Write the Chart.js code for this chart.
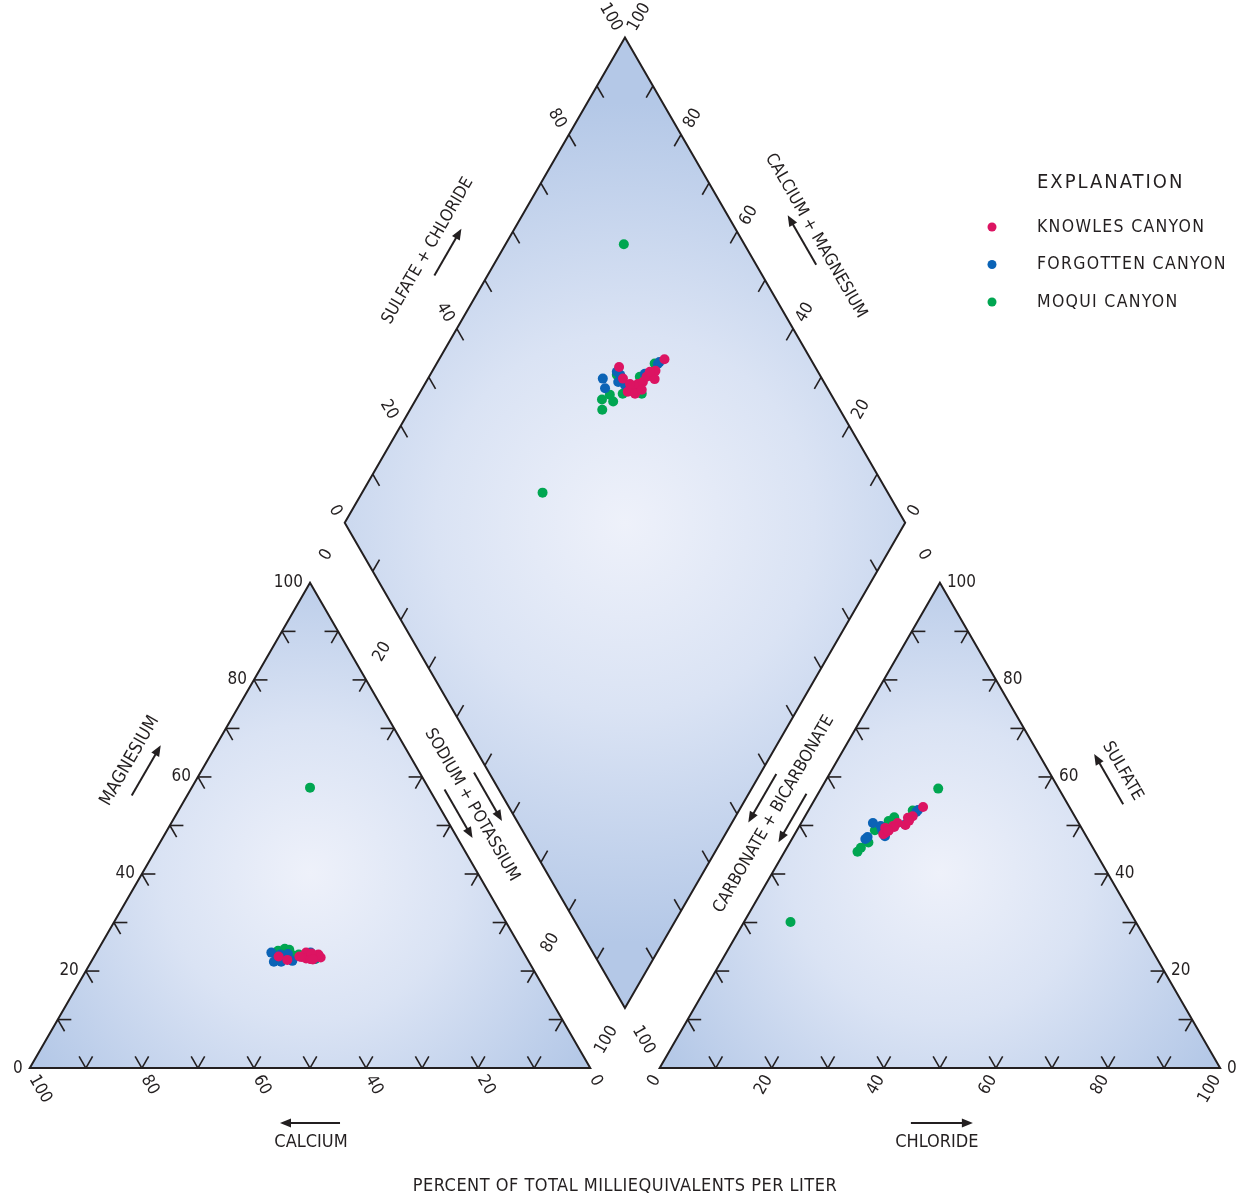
<!DOCTYPE html>
<html>
<head>
<meta charset="utf-8">
<script src="https://cdn.jsdelivr.net/npm/chart.js@4.4.0/dist/chart.umd.min.js"></script>
<style>
  html, body { margin: 0; padding: 0; background: #fff; }
  #piper { display: block; }
</style>
</head>
<body>
<canvas id="piper" width="1238" height="1204"></canvas>
<script>
// === PIPER DIAGRAM — percent of total milliequivalents per liter ===

const seriesNames  = ['KNOWLES CANYON', 'FORGOTTEN CANYON', 'MOQUI CANYON'];
const seriesColors = ['#dc1462', '#0b63b6', '#00a651'];

// one entry per water sample; sodium + potassium = 100 - Ca - Mg, carbonate + bicarbonate = 100 - Cl - SO4
const knowlesCa  = [36.9, 44.1, 42.9, 40.1, 38.8, 39.4, 38.2, 38.7, 36.7, 36.8, 38.6, 37.9, 38.3, 40.4];
const knowlesMg  = [22.9, 23.0, 22.3, 22.9, 23.8, 22.6, 23.1, 22.5, 22.8, 23.4, 22.5, 23.6, 22.4, 23.0];
const knowlesCl  = [20.1, 15.5, 16.0, 15.8, 16.4, 16.7, 17.2, 18.8, 18.5, 19.2, 19.0, 16.3, 17.0, 16.3];
const knowlesSO4 = [53.8, 49.5, 48.5, 48.2, 49.0, 49.9, 50.5, 50.1, 51.6, 51.9, 51.0, 48.8, 49.7, 48.9];

const forgottenCa  = [45.0, 45.5, 44.2, 42.2, 38.0, 38.0, 37.4, 42.1, 43.6];
const forgottenMg  = [23.8, 21.9, 21.9, 23.5, 23.8, 22.5, 23.0, 22.1, 23.4];
const forgottenCl  = [13.3, 13.1, 14.5, 12.8, 18.7, 19.4, 19.5, 15.2, 16.3];
const forgottenSO4 = [47.6, 47.2, 49.9, 50.5, 50.2, 52.8, 53.2, 49.0, 47.8];

const moquiCa  = [42.2, 42.8, 41.5, 41.4, 38.3, 43.0, 37.8, 40.3, 39.4, 21.1, 43.6];
const moquiMg  = [24.6, 22.9, 24.4, 23.2, 22.8, 23.7, 22.5, 23.4, 23.0, 57.8, 24.2];
const moquiCl  = [13.2, 13.0, 14.0, 13.5, 18.6, 14.2, 15.4, 13.9, 16.0, 20.9, 8.3];
const moquiSO4 = [45.4, 44.6, 46.5, 46.9, 53.1, 49.6, 50.9, 49.0, 51.7, 57.6, 30.1];

// tick labels on each axis
const magnesiumTicks = [0, 20, 40, 60, 80, 100];
const calciumTicks   = [100, 80, 60, 40, 20, 0];
const chlorideTicks  = [0, 20, 40, 60, 80, 100];
const sulfateTicks   = [0, 20, 40, 60, 80, 100];
const sulfChlTicks   = [0, 20, 40, 80, 100];
const calMagTicks    = [0, 20, 40, 60, 80, 100];
const sodPotTicks    = [0, 20, 80, 100];
const carbTicks      = [0, 100];

// --- layout ---
const PX = 5.65;              // pixels per percent along a side
const GAP = 70 / PX;          // space between the two triangles (percent units)
const H = Math.sqrt(3) / 2;
const ORIGIN_X = 25, ORIGIN_Y = 1072;
const W = 1238, HT = 1204;
const INK = '#231f20';
const FONT = '"Liberation Sans Narrow", "DejaVu Sans Condensed", sans-serif';

function cationXY(ca, mg) {
    const na = 100 - ca - mg;
    return { x: na + mg / 2, y: mg * H };
}
function anionXY(cl, so4) {
    return { x: 100 + GAP + cl + so4 / 2, y: so4 * H };
}
function diamondXY(ca, mg, cl, so4) {
    const a = ca + mg, s = cl + so4;
    return { x: 100 + GAP / 2 + 0.5 * (s - a), y: GAP * H + H * (s + a) };
}
function samplePoints(ca, mg, cl, so4) {
    const pts = [];
    ca.forEach((c, i) => {
        pts.push(cationXY(c, mg[i]));
        pts.push(anionXY(cl[i], so4[i]));
        pts.push(diamondXY(c, mg[i], cl[i], so4[i]));
    });
    return pts;
}

// screen directions (y down)
const UR = [0.5, -H], UL = [-0.5, -H], DR = [0.5, H], DL = [-0.5, H], RT = [1, 0], LF = [-1, 0];
const ARM = 13.5;

function seg(ctx, a, b) {
    ctx.beginPath(); ctx.moveTo(a[0], a[1]); ctx.lineTo(b[0], b[1]); ctx.stroke();
}
function arms(ctx, p, dirs) {
    dirs.forEach(d => seg(ctx, p, [p[0] + d[0] * ARM, p[1] + d[1] * ARM]));
}
function label(ctx, str, x, y, deg, align) {
    ctx.save();
    ctx.translate(x, y);
    ctx.rotate(deg * Math.PI / 180);
    ctx.textAlign = align || 'center';
    ctx.textBaseline = 'middle';
    ctx.fillText(String(str), 0, 0);
    ctx.restore();
}
function arrow(ctx, a, b) {
    const dx = b[0] - a[0], dy = b[1] - a[1], len = Math.hypot(dx, dy);
    const ux = dx / len, uy = dy / len;
    const hl = 11, hw = 4.5;
    seg(ctx, a, [b[0] - ux * hl * 0.8, b[1] - uy * hl * 0.8]);
    ctx.beginPath();
    ctx.moveTo(b[0], b[1]);
    ctx.lineTo(b[0] - ux * hl - uy * hw, b[1] - uy * hl + ux * hw);
    ctx.lineTo(b[0] - ux * hl + uy * hw, b[1] - uy * hl - ux * hw);
    ctx.closePath();
    ctx.fill();
}
// point "along" px from start on an edge, pushed "out" px along the outward normal
function offsetPt(start, dir, normal, along, out) {
    return [start[0] + dir[0] * along + normal[0] * out, start[1] + dir[1] * along + normal[1] * out];
}

const piperFrame = {
    id: 'piperFrame',
    beforeDatasetsDraw(chart) {
        const { ctx, scales: { x, y } } = chart;
        const px = (u, v) => [x.getPixelForValue(u), y.getPixelForValue(v)];
        const gh = GAP * H, th = 100 * H;

        const leftTri  = [px(0, 0), px(100, 0), px(50, th)];
        const rightTri = [px(100 + GAP, 0), px(200 + GAP, 0), px(150 + GAP, th)];
        const dB = px(100 + GAP / 2, gh), dL = px(50 + GAP / 2, gh + th);
        const dT = px(100 + GAP / 2, gh + 2 * th), dR = px(150 + GAP / 2, gh + th);

        const fillShape = (pts, c, r) => {
            const g = ctx.createRadialGradient(c[0], c[1], 0, c[0], c[1], r);
            g.addColorStop(0, '#eef1fa');
            g.addColorStop(0.45, '#dae3f4');
            g.addColorStop(1, '#b4c8e7');
            ctx.beginPath();
            pts.forEach((p, i) => i ? ctx.lineTo(p[0], p[1]) : ctx.moveTo(p[0], p[1]));
            ctx.closePath();
            ctx.fillStyle = g;
            ctx.fill();
        };
        const outline = pts => {
            ctx.beginPath();
            pts.forEach((p, i) => i ? ctx.lineTo(p[0], p[1]) : ctx.moveTo(p[0], p[1]));
            ctx.closePath();
            ctx.stroke();
        };

        ctx.save();
        fillShape(leftTri, px(50, th / 3 + 6), 330);
        fillShape(rightTri, px(150 + GAP, th / 3 + 6), 330);
        fillShape([dB, dR, dT, dL], px(100 + GAP / 2, gh + th), 420);

        ctx.strokeStyle = INK;
        ctx.fillStyle = INK;
        ctx.lineWidth = 2;
        ctx.lineJoin = 'miter';
        [leftTri, rightTri, [dB, dR, dT, dL]].forEach(outline);

        // ticks every 10 percent
        ctx.lineWidth = 1.6;
        for (let t = 10; t <= 90; t += 10) {
            arms(ctx, px(t, 0), [UL, UR]);
            arms(ctx, px(t / 2, t * H), [RT, DR]);
            arms(ctx, px(100 - t / 2, t * H), [LF, DL]);

            arms(ctx, px(100 + GAP + t, 0), [UL, UR]);
            arms(ctx, px(100 + GAP + t / 2, t * H), [RT, DR]);
            arms(ctx, px(200 + GAP - t / 2, t * H), [LF, DL]);

            arms(ctx, px(50 + GAP / 2 + t / 2, gh + th + t * H), [DR]);
            arms(ctx, px(150 + GAP / 2 - t / 2, gh + th + t * H), [DL]);
            arms(ctx, px(50 + GAP / 2 + t / 2, gh + th - t * H), [UR]);
            arms(ctx, px(150 + GAP / 2 - t / 2, gh + th - t * H), [UL]);
        }

        // tick labels
        ctx.font = '17px ' + FONT;
        magnesiumTicks.forEach(v => {
            const p = px(v / 2, v * H);
            label(ctx, v, p[0] - 7, p[1], 0, 'right');
        });
        calciumTicks.forEach(v => {
            const p = px(100 - v, 0);
            label(ctx, v, p[0] + DR[0] * 4 + 1, p[1] + DR[1] * 4 + 5, 60, 'left');
        });
        chlorideTicks.forEach(v => {
            const p = px(100 + GAP + v, 0);
            label(ctx, v, p[0] + DL[0] * 4 - 1, p[1] + DL[1] * 4 + 5, -60, 'right');
        });
        sulfateTicks.forEach(v => {
            const p = px(200 + GAP - v / 2, v * H);
            label(ctx, v, p[0] + 7, p[1], 0, 'left');
        });
        sulfChlTicks.forEach(v => {
            const p = px(50 + GAP / 2 + v / 2, gh + th + v * H);
            label(ctx, v, p[0] + UL[0] * 10 - 2, p[1] + UL[1] * 10 + 1, 60, 'right');
        });
        calMagTicks.forEach(v => {
            const p = px(150 + GAP / 2 - v / 2, gh + th + v * H);
            label(ctx, v, p[0] + UR[0] * 10 + 2, p[1] + UR[1] * 10 + 1, -60, 'left');
        });
        sodPotTicks.forEach(v => {
            const p = px(50 + GAP / 2 + v / 2, gh + th - v * H);
            label(ctx, v, p[0] + DL[0] * 37, p[1] + DL[1] * 37, -60);
        });
        carbTicks.forEach(v => {
            const p = px(150 + GAP / 2 - v / 2, gh + th - v * H);
            label(ctx, v, p[0] + DR[0] * 37, p[1] + DR[1] * 37, 60);
        });

        // axis titles and arrows
        ctx.font = '18px ' + FONT;
        ctx.lineWidth = 2;
        const nUL = [-H, -0.5], nUR = [H, -0.5], nDL = [-H, 0.5], nDR = [H, 0.5];

        let p = offsetPt(leftTri[0], UR, nUL, 316, 67);
        label(ctx, 'MAGNESIUM', p[0], p[1], -60);
        arrow(ctx, offsetPt(leftTri[0], UR, nUL, 287, 48), offsetPt(leftTri[0], UR, nUL, 345, 48));

        ctx.font = '17px ' + FONT;
        p = offsetPt(dL, UR, nUL, 277, 64);
        label(ctx, 'SULFATE + CHLORIDE', p[0], p[1], -60);
        arrow(ctx, offsetPt(dL, UR, nUL, 259, 46), offsetPt(dL, UR, nUL, 313, 46));

        p = offsetPt(dR, UL, nUR, 293, 66);
        label(ctx, 'CALCIUM + MAGNESIUM', p[0], p[1], 60);
        arrow(ctx, offsetPt(dR, UL, nUR, 268, 52), offsetPt(dR, UL, nUR, 325, 52));

        p = offsetPt(rightTri[1], UL, nUR, 306, 64);
        label(ctx, 'SULFATE', p[0], p[1], 60);
        arrow(ctx, offsetPt(rightTri[1], UL, nUR, 277, 48), offsetPt(rightTri[1], UL, nUR, 335, 48));

        p = offsetPt(dL, DR, nDL, 308, 31);
        label(ctx, 'SODIUM + POTASSIUM', p[0], p[1], 60);
        arrow(ctx, offsetPt(dL, DR, nDL, 281, 13), offsetPt(dL, DR, nDL, 337, 13));
        arrow(ctx, offsetPt(dL, DR, nDL, 281, 47), offsetPt(dL, DR, nDL, 337, 47));

        p = offsetPt(dR, DL, nDR, 318, 32);
        label(ctx, 'CARBONATE + BICARBONATE', p[0], p[1], -60);
        arrow(ctx, offsetPt(dR, DL, nDR, 282, 14), offsetPt(dR, DL, nDR, 338, 14));
        arrow(ctx, offsetPt(dR, DL, nDR, 284, 50), offsetPt(dR, DL, nDR, 340, 50));

        ctx.font = '18px ' + FONT;
        const cb = px(50, 0), rb = px(150 + GAP, 0);
        arrow(ctx, [cb[0] + 30, cb[1] + 55], [cb[0] - 30, cb[1] + 55]);
        label(ctx, 'CALCIUM', cb[0] + 1, cb[1] + 74, 0);
        arrow(ctx, [rb[0] - 29, rb[1] + 55], [rb[0] + 33, rb[1] + 55]);
        label(ctx, 'CHLORIDE', rb[0] - 3, rb[1] + 74, 0);

        ctx.letterSpacing = '0.5px';
        label(ctx, 'PERCENT OF TOTAL MILLIEQUIVALENTS PER LITER', dB[0], cb[1] + 118, 0);
        ctx.restore();
    },
    afterDatasetsDraw(chart) {
        const { ctx } = chart;
        ctx.save();
        ctx.fillStyle = INK;
        ctx.textAlign = 'left';
        ctx.textBaseline = 'middle';
        ctx.letterSpacing = '2px';
        ctx.font = '20px ' + FONT;
        ctx.fillText('EXPLANATION', 1037, 183);
        ctx.letterSpacing = '1.3px';
        ctx.font = '17.5px ' + FONT;
        seriesNames.forEach((name, i) => {
            const yy = 227 + i * 37.5;
            ctx.fillStyle = seriesColors[i];
            ctx.beginPath();
            ctx.arc(992, yy, 4.5, 0, Math.PI * 2);
            ctx.fill();
            ctx.fillStyle = INK;
            ctx.fillText(name, 1037, yy);
        });
        ctx.restore();
    }
};

const sampleSets = [
    samplePoints(knowlesCa, knowlesMg, knowlesCl, knowlesSO4),
    samplePoints(forgottenCa, forgottenMg, forgottenCl, forgottenSO4),
    samplePoints(moquiCa, moquiMg, moquiCl, moquiSO4)
];

const datasets = seriesNames.map((name, i) => ({
    label: name,
    data: sampleSets[i],
    backgroundColor: seriesColors[i],
    borderColor: seriesColors[i],
    pointRadius: 5,
    pointHoverRadius: 5,
    pointBorderWidth: 0
}));

new Chart(document.getElementById('piper'), {
    type: 'scatter',
    data: { datasets },
    options: {
        responsive: false,
        animation: false,
        devicePixelRatio: 1,
        events: [],
        layout: { padding: 0 },
        plugins: { legend: { display: false }, tooltip: { enabled: false } },
        scales: {
            x: { type: 'linear', display: false, min: -ORIGIN_X / PX, max: (W - ORIGIN_X) / PX },
            y: { type: 'linear', display: false, min: -(HT - ORIGIN_Y) / PX, max: ORIGIN_Y / PX }
        }
    },
    plugins: [piperFrame]
});
</script>
</body>
</html>
